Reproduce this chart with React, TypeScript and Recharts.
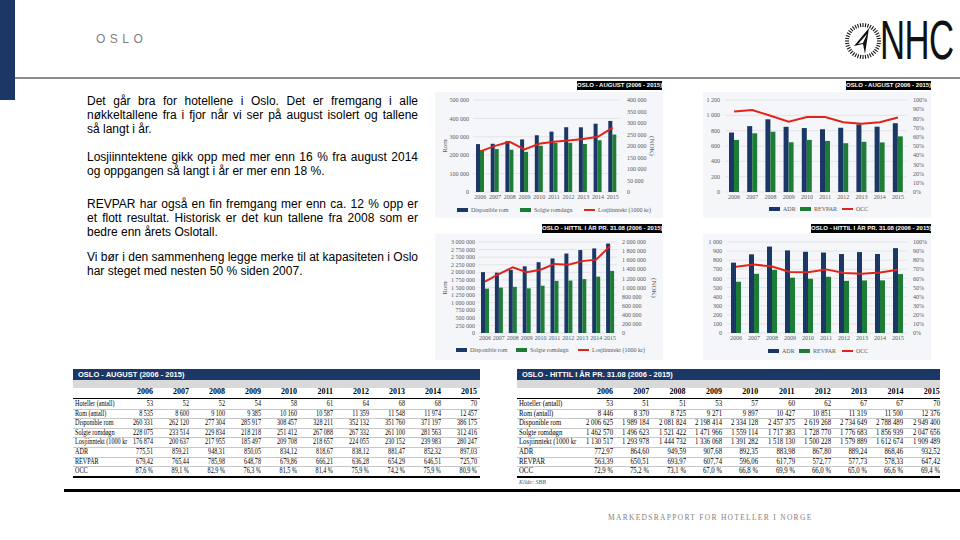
import React from "react"
import { ComposedChart, Bar, Line, XAxis, YAxis, CartesianGrid } from "recharts"

const SANS = '"Liberation Sans", Arial, sans-serif'
const SERIF = '"Liberation Serif", "Times New Roman", serif'
const NAVY = "#1b3765"
const GREEN = "#1d7c36"
const RED = "#e2231a"
const TICK_GRAY = "#595959"

// --- data ---
const years = ["2006", "2007", "2008", "2009", "2010", "2011", "2012", "2013", "2014", "2015"]

const augHotels = [53, 52, 52, 54, 58, 61, 64, 68, 68, 70]
const augRooms = [8535, 8600, 9100, 9385, 10160, 10587, 11359, 11548, 11974, 12457]
const augAvail = [260331, 262120, 277304, 285917, 308457, 328211, 352132, 351760, 371197, 386175]
const augSold = [228075, 233514, 229834, 218218, 251412, 267088, 267332, 261100, 281563, 312416]
const augRevenue = [176874, 200637, 217955, 185497, 209708, 218657, 224055, 230152, 239983, 280247]
const augAdr = [775.51, 859.21, 948.31, 850.05, 834.12, 818.67, 838.12, 881.47, 852.32, 897.03]
const augRevpar = [679.42, 765.44, 785.98, 648.78, 679.86, 666.21, 636.28, 654.29, 646.51, 725.7]
const augOcc = [87.6, 89.1, 82.9, 76.3, 81.5, 81.4, 75.9, 74.2, 75.9, 80.9]

const ytdHotels = [53, 51, 51, 53, 57, 60, 62, 67, 67, 70]
const ytdRooms = [8446, 8370, 8725, 9271, 9897, 10427, 10851, 11319, 11500, 12376]
const ytdAvail = [2006625, 1989184, 2081824, 2198414, 2334128, 2457375, 2619268, 2734649, 2788489, 2949400]
const ytdSold = [1462570, 1496623, 1521422, 1471966, 1559114, 1717383, 1728770, 1776683, 1856939, 2047656]
const ytdRevenue = [1130517, 1293978, 1444732, 1336068, 1391282, 1518130, 1500228, 1579889, 1612674, 1909489]
const ytdAdr = [772.97, 864.6, 949.59, 907.68, 892.35, 883.98, 867.8, 889.24, 868.46, 932.52]
const ytdRevpar = [563.39, 650.51, 693.97, 607.74, 596.06, 617.79, 572.77, 577.73, 578.33, 647.42]
const ytdOcc = [72.9, 75.2, 73.1, 67.0, 66.8, 69.9, 66.0, 65.0, 66.6, 69.4]

const roomTicksAug = [0, 100000, 200000, 300000, 400000, 500000]
const nokTicksAug = [0, 50000, 100000, 150000, 200000, 250000, 300000, 350000, 400000]
const roomTicksYtd = [0, 250000, 500000, 750000, 1000000, 1250000, 1500000, 1750000, 2000000, 2250000, 2500000, 2750000, 3000000]
const nokTicksYtd = [0, 200000, 400000, 600000, 800000, 1000000, 1200000, 1400000, 1600000, 1800000, 2000000]
const adrTicksAug = [0, 200, 400, 600, 800, 1000, 1200]
const adrTicksYtd = [0, 100, 200, 300, 400, 500, 600, 700, 800, 900, 1000]
const pctTicks = [0, 10, 20, 30, 40, 50, 60, 70, 80, 90, 100]

const fmtInt = (n: number) => String(Math.round(n)).replace(/\B(?=(\d{3})+(?!\d))/g, " ")
const fmtTick = (n: number) => fmtInt(n).replace(/ /g, "\u00a0")
const fmtDec = (n: number) => n.toFixed(2).replace(".", ",")
const fmtPct = (n: number) => n.toFixed(1).replace(".", ",") + " %"
const fmtAxisPct = (n: number) => `${n}%`

const augData = years.map((year, i) => ({
  year, avail: augAvail[i], sold: augSold[i], revenue: augRevenue[i],
  adr: augAdr[i], revpar: augRevpar[i], occ: augOcc[i],
}))
const ytdData = years.map((year, i) => ({
  year, avail: ytdAvail[i], sold: ytdSold[i], revenue: ytdRevenue[i],
  adr: ytdAdr[i], revpar: ytdRevpar[i], occ: ytdOcc[i],
}))

const tickStyle = { fontSize: 6, fill: TICK_GRAY, fontFamily: SERIF }

function Combo({ x, top, w, plotTop, plotBottom, leftW, rightW, data, bars, lineKey, leftTicks, rightTicks, leftFmt, rightFmt, leftGap, rightGap, barSize }: any) {
  return (
    <div style={{ position: "absolute", left: x, top }}>
      <ComposedChart
        width={w}
        height={plotBottom - top + 12}
        data={data}
        margin={{ top: plotTop - top, right: 0, left: 0, bottom: 0 }}
        barGap={0}
        barSize={barSize}
      >
        <CartesianGrid yAxisId="left" vertical={false} stroke="#dcdcdc" strokeWidth={0.7} />
        <XAxis dataKey="year" axisLine={false} tickLine={false} tickSize={0} tickMargin={3} height={12} interval={0} tick={tickStyle} />
        <YAxis yAxisId="left" width={leftW} domain={[leftTicks[0], leftTicks[leftTicks.length - 1]]} ticks={leftTicks}
          tickFormatter={leftFmt} axisLine={false} tickLine={false} tickSize={0} tickMargin={leftGap} interval={0} tick={tickStyle} />
        <YAxis yAxisId="right" orientation="right" width={rightW} domain={[rightTicks[0], rightTicks[rightTicks.length - 1]]} ticks={rightTicks}
          tickFormatter={rightFmt} axisLine={false} tickLine={false} tickSize={0} tickMargin={rightGap} interval={0} tick={tickStyle} />
        {bars.map((b: any) => (
          <Bar key={b.key} yAxisId="left" dataKey={b.key} fill={b.color} isAnimationActive={false} />
        ))}
        <Line yAxisId="right" type="linear" dataKey={lineKey} stroke={RED} strokeWidth={2} dot={false} isAnimationActive={false} />
      </ComposedChart>
    </div>
  )
}

function Legend({ y, items }: any) {
  return (
    <>
      {items.map((it: any) => (
        <div key={it.label} style={{ position: "absolute", left: it.x, top: y - 4, height: 8, display: "flex", alignItems: "center" }}>
          <div style={{ width: 11, height: it.line ? 2 : 4, background: it.color, marginRight: 3 }} />
          <span style={{ fontFamily: SERIF, fontSize: 6, color: TICK_GRAY, whiteSpace: "nowrap" }}>{it.label}</span>
        </div>
      ))}
    </>
  )
}

function TitleTag({ x, y, w, text }: any) {
  return (
    <div style={{
      position: "absolute", left: x, top: y, width: w, height: 9, background: "#000", color: "#fff",
      fontFamily: SANS, fontSize: 6, fontWeight: 700, lineHeight: "9px", textAlign: "center", whiteSpace: "nowrap",
    }}>{text}</div>
  )
}

function AxisTitle({ x, y, text, angle }: any) {
  return (
    <div style={{
      position: "absolute", left: x - 20, top: y - 5, width: 40, height: 10, lineHeight: "10px", textAlign: "center",
      fontFamily: SERIF, fontSize: 7, color: TICK_GRAY, transform: `rotate(${angle}deg)`,
    }}>{text}</div>
  )
}

function Panel({ x, y, w, h }: any) {
  return <div style={{ position: "absolute", left: x, top: y, width: w, height: h, background: "#f4f6f9" }} />
}

const rowLabels = ["Hoteller (antall)", "Rom (antall)", "Disponible rom", "Solgte romdøgn", "Losjiinntekt (1000 kr", "ADR", "REVPAR", "OCC"]

function DataTable({ x, w, title, colRight0, colStep, rows, source, squeeze }: any) {
  const rowY = (i: number) => 404 + i * 9.6
  const cell = (cx: number, cy: number, text: string, bold = false) => (
    <div style={{
      position: "absolute", left: cx - 60, width: 60, top: cy - 5, height: 10, lineHeight: "10px", textAlign: "right",
      fontFamily: SERIF, fontSize: bold ? 8 : 7.5, fontWeight: bold ? 700 : 400, color: "#000", whiteSpace: "nowrap",
      transform: `scaleX(${bold ? 1 : squeeze})`, transformOrigin: "right center",
    }}>{text}</div>
  )
  return (
    <>
      <div style={{ position: "absolute", left: x, top: 369, width: w, height: 11, background: NAVY }} />
      <div style={{
        position: "absolute", left: x + 5, top: 369, height: 11, lineHeight: "11px", color: "#fff",
        fontFamily: SANS, fontSize: 7.5, fontWeight: 700, whiteSpace: "nowrap",
      }}>{title}</div>
      <div style={{ position: "absolute", left: x, top: 380, width: w, height: 8, background: "#d9d9d9" }} />
      {years.map((yr, j) => <React.Fragment key={yr}>{cell(colRight0 + j * colStep, 392, yr, true)}</React.Fragment>)}
      <div style={{ position: "absolute", left: x, top: 398, width: w, height: 1, background: "#000" }} />
      {rows.map((vals: string[], i: number) => (
        <React.Fragment key={i}>
          <div style={{
            position: "absolute", left: x + 2, top: rowY(i) - 5, height: 10, lineHeight: "10px",
            fontFamily: SERIF, fontSize: 7.5, color: "#000", whiteSpace: "nowrap",
            transform: `scaleX(${squeeze})`, transformOrigin: "left center",
          }}>{rowLabels[i]}</div>
          {vals.map((v, j) => <React.Fragment key={j}>{cell(colRight0 + j * colStep, rowY(i), v)}</React.Fragment>)}
          {i < rows.length - 1 && (
            <div style={{ position: "absolute", left: x, top: rowY(i) + 4.6, width: w, height: 0.6, background: "#c8c8c8" }} />
          )}
        </React.Fragment>
      ))}
      <div style={{ position: "absolute", left: x, top: 476, width: w, height: 1.5, background: "#000" }} />
      {source && (
        <div style={{
          position: "absolute", left: x + 2, top: 478, height: 8, lineHeight: "8px", fontFamily: SERIF,
          fontSize: 6, fontStyle: "italic", color: "#595959",
        }}>{source}</div>
      )}
    </>
  )
}

const textLines = [
  { y: 101, t: "Det går bra for hotellene i Oslo. Det er fremgang i alle", j: true },
  { y: 115, t: "nøkkeltallene  fra i fjor når vi ser på august isolert og tallene", j: true },
  { y: 129, t: "så langt i år.", j: false },
  { y: 157, t: "Losjiinntektene gikk opp med mer enn 16 % fra august 2014", j: true },
  { y: 171, t: "og oppgangen så langt i år er mer enn 18 %.", j: false },
  { y: 204, t: "REVPAR har også en fin fremgang mer enn  ca. 12 % opp er", j: true },
  { y: 218, t: "et flott resultat. Historisk er det kun tallene fra 2008 som er", j: true },
  { y: 232, t: "bedre enn årets Oslotall.", j: false },
  { y: 257, t: "Vi bør i den sammenheng legge merke til at kapasiteten i Oslo", j: true },
  { y: 271, t: "har steget med nesten 50 % siden 2007.", j: false },
]

function Logo() {
  const ticks = Array.from({ length: 40 }, (_, i) => i)
  return (
    <>
      <svg style={{ position: "absolute", left: 843, top: 20 }} width={40} height={42}>
        {ticks.map((i) => {
          const a = (i / 40) * Math.PI * 2
          const r1 = 14, r2 = 18
          return (
            <line key={i} x1={20 + r1 * Math.cos(a)} y1={21 + r1 * Math.sin(a)} x2={20 + r2 * Math.cos(a)} y2={21 + r2 * Math.sin(a)}
              stroke="#111" strokeWidth={1.1} />
          )
        })}
        <path d="M 26 8 L 11 26 L 20 24 L 22 34 Z" fill="#111" />
        <path d="M 24 14 L 15 24 L 20 23 Z" fill="#fff" />
      </svg>
      <div style={{
        position: "absolute", left: 880, top: 12, fontFamily: SANS, fontSize: 56, lineHeight: "56px", color: "#111",
        transform: "scaleX(0.62)", transformOrigin: "left top", letterSpacing: -1,
      }}>NHC</div>
    </>
  )
}

export default function App() {
  const augRows = [
    augHotels.map(fmtInt), augRooms.map(fmtInt), augAvail.map(fmtInt), augSold.map(fmtInt),
    augRevenue.map(fmtInt), augAdr.map(fmtDec), augRevpar.map(fmtDec), augOcc.map(fmtPct),
  ]
  const ytdRows = [
    ytdHotels.map(fmtInt), ytdRooms.map(fmtInt), ytdAvail.map(fmtInt), ytdSold.map(fmtInt),
    ytdRevenue.map(fmtInt), ytdAdr.map(fmtDec), ytdRevpar.map(fmtDec), ytdOcc.map(fmtPct),
  ]
  const roomBars = [{ key: "avail", color: NAVY }, { key: "sold", color: GREEN }]
  const rateBars = [{ key: "adr", color: NAVY }, { key: "revpar", color: GREEN }]

  return (
    <div style={{ position: "absolute", left: 0, top: 0, width: 960, height: 540, background: "#fff", overflow: "hidden" }}>
      <div style={{ position: "absolute", left: 0, top: 0, width: 15, height: 100, background: NAVY }} />
      <div style={{
        position: "absolute", left: 96, top: 32, fontFamily: SANS, fontSize: 12, letterSpacing: 4.5, color: "#7f7f7f",
      }}>OSLO</div>
      <Logo />
      <div style={{ position: "absolute", left: 15, top: 77, width: 945, height: 1.5, background: "#8c8c8c" }} />

      {textLines.map((l) => (
        <div key={l.y} style={{
          position: "absolute", left: 87, top: l.y - 7, width: 331, height: 14, lineHeight: "14px",
          fontFamily: SANS, fontSize: 12, color: "#000", whiteSpace: "pre",
          textAlign: l.j ? "justify" : "left", textAlignLast: l.j ? "justify" : "auto",
        } as any}>{l.j ? <span style={{ whiteSpace: "normal" }}>{l.t}</span> : l.t}</div>
      ))}

      {/* chart 1: rooms, august */}
      <Panel x={435} y={92} w={228} h={126} />
      <TitleTag x={577} y={81} w={85} text="OSLO - AUGUST (2006 - 2015)" />
      <Combo x={435} top={92} w={228} plotTop={100} plotBottom={192} leftW={38} rightW={43} data={augData}
        bars={roomBars} lineKey="revenue" leftTicks={roomTicksAug} rightTicks={nokTicksAug}
        leftFmt={fmtTick} rightFmt={fmtTick} leftGap={4} rightGap={7} barSize={4} />
      <AxisTitle x={445} y={146} text="Rom" angle={-90} />
      <AxisTitle x={652} y={146} text="(NOK)" angle={90} />
      <Legend y={210} items={[
        { x: 457, color: NAVY, label: "Disponible rom" },
        { x: 520, color: GREEN, label: "Solgte romdøgn" },
        { x: 584, color: RED, label: "Losjiinntekt (1000 kr)", line: true },
      ]} />

      {/* chart 2: rates, august */}
      <Panel x={703} y={92} w={228} h={126} />
      <TitleTag x={846} y={81} w={85} text="OSLO - AUGUST (2006 - 2015)" />
      <Combo x={703} top={92} w={227} plotTop={100} plotBottom={192} leftW={22} rightW={23} data={augData}
        bars={rateBars} lineKey="occ" leftTicks={adrTicksAug} rightTicks={pctTicks}
        leftFmt={fmtTick} rightFmt={fmtAxisPct} leftGap={5} rightGap={6} barSize={5} />
      <Legend y={209} items={[
        { x: 769, color: NAVY, label: "ADR" },
        { x: 800, color: GREEN, label: "REVPAR" },
        { x: 842, color: RED, label: "OCC", line: true },
      ]} />

      {/* chart 3: rooms, year to date */}
      <Panel x={435} y={234} w={228} h={126} />
      <TitleTag x={542} y={224} w={120} text="OSLO - HITTIL I ÅR PR. 31.08 (2006 - 2015)" />
      <Combo x={435} top={233} w={227} plotTop={242} plotBottom={333} leftW={43} rightW={45} data={ytdData}
        bars={roomBars} lineKey="revenue" leftTicks={roomTicksYtd} rightTicks={nokTicksYtd}
        leftFmt={fmtTick} rightFmt={fmtTick} leftGap={3} rightGap={5} barSize={4} />
      <AxisTitle x={445} y={288} text="Rom" angle={-90} />
      <AxisTitle x={654} y={288} text="(NOK)" angle={90} />
      <Legend y={350} items={[
        { x: 456, color: NAVY, label: "Disponible rom" },
        { x: 516, color: GREEN, label: "Solgte romdøgn" },
        { x: 578, color: RED, label: "Losjiinntekt (1000 kr)", line: true },
      ]} />

      {/* chart 4: rates, year to date */}
      <Panel x={703} y={234} w={228} h={126} />
      <TitleTag x={811} y={224} w={120} text="OSLO - HITTIL I ÅR PR. 31.08 (2006 - 2015)" />
      <Combo x={703} top={233} w={227} plotTop={242} plotBottom={333} leftW={24} rightW={23} data={ytdData}
        bars={rateBars} lineKey="occ" leftTicks={adrTicksYtd} rightTicks={pctTicks}
        leftFmt={fmtTick} rightFmt={fmtAxisPct} leftGap={5} rightGap={6} barSize={5} />
      <Legend y={351} items={[
        { x: 768, color: NAVY, label: "ADR" },
        { x: 799, color: GREEN, label: "REVPAR" },
        { x: 842, color: RED, label: "OCC", line: true },
      ]} />

      <DataTable x={73} w={407} title="OSLO - AUGUST (2006 - 2015)" colRight0={153} colStep={36} rows={augRows} squeeze={0.82} />
      <DataTable x={517} w={423} title="OSLO - HITTIL I ÅR PR. 31.08 (2006 - 2015)" colRight0={613} colStep={36.3} rows={ytdRows} source="Kilde: SBB" squeeze={0.9} />

      <div style={{ position: "absolute", left: 64, top: 489, width: 896, height: 2.5, background: "#000" }} />
      <div style={{
        position: "absolute", left: 608, top: 513, fontFamily: SERIF, fontSize: 7.5, letterSpacing: 1.3, color: "#7f7f7f", whiteSpace: "nowrap",
      }}>MARKEDSRAPPORT FOR HOTELLER I NORGE</div>
    </div>
  )
}
